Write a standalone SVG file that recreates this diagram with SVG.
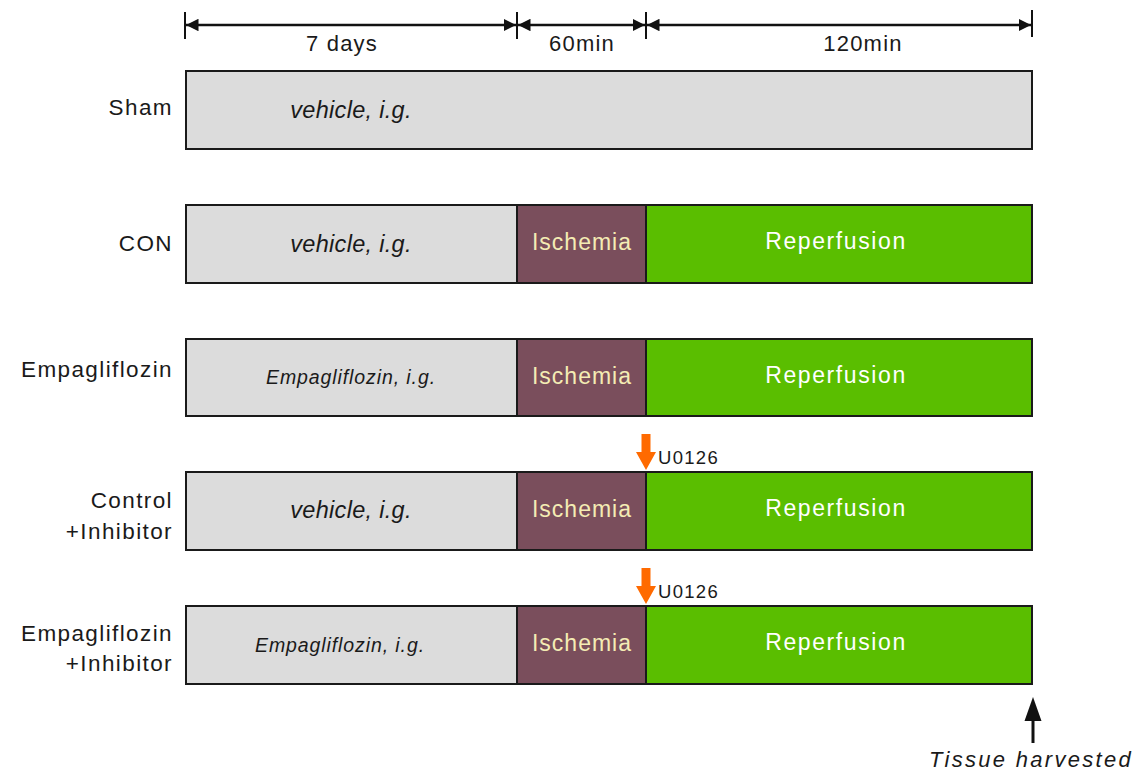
<svg xmlns="http://www.w3.org/2000/svg" width="1137" height="771" viewBox="0 0 1137 771">
<style>
text{font-family:"Liberation Sans",Arial,sans-serif;fill:#1a1a1a}
.lbl{font-size:22.5px;text-anchor:end;letter-spacing:1.4px}
.dim{font-size:22px;text-anchor:middle;letter-spacing:1.2px}
.veh{font-size:23.5px;font-style:italic;text-anchor:middle;letter-spacing:0.3px}
.emp{font-size:19.5px;font-style:italic;text-anchor:middle;letter-spacing:0.9px}
.isc{font-size:23px;fill:#f4ecb4;text-anchor:middle;letter-spacing:1px}
.rep{font-size:23px;fill:#ffffff;text-anchor:middle;letter-spacing:1.6px}
.u{font-size:18.5px;letter-spacing:1.3px}
.gray{fill:#dcdcdc;stroke:#1a1a1a;stroke-width:2}
.isch{fill:#7a4e5c;stroke:#1a1a1a;stroke-width:2}
.green{fill:#5abe00;stroke:#1a1a1a;stroke-width:2}
.dl{stroke:#111;stroke-width:2.5;fill:none}
.tick{stroke:#111;stroke-width:2}
</style>
<defs>
<marker id="ah" viewBox="0 0 10 10" refX="10" refY="5" markerWidth="5" markerHeight="5" orient="auto-start-reverse" markerUnits="strokeWidth">
<path d="M0,0 L10,5 L0,10 z" fill="#111"/>
</marker>
</defs>
<rect width="1137" height="771" fill="#ffffff"/>
<g id="timeline">
<line class="tick" x1="185" y1="12" x2="185" y2="39"/>
<line class="tick" x1="517" y1="12" x2="517" y2="39"/>
<line class="tick" x1="646" y1="12" x2="646" y2="39"/>
<line class="tick" x1="1032" y1="10" x2="1032" y2="37"/>
<line class="dl" x1="186" y1="25" x2="516" y2="25" marker-start="url(#ah)" marker-end="url(#ah)"/>
<line class="dl" x1="518" y1="25" x2="645" y2="25" marker-start="url(#ah)" marker-end="url(#ah)"/>
<line class="dl" x1="647" y1="25" x2="1031" y2="25" marker-start="url(#ah)" marker-end="url(#ah)"/>
<text class="dim" x="342" y="51">7 days</text>
<text class="dim" x="582" y="51">60min</text>
<text class="dim" x="863" y="51">120min</text>
</g>
<g id="sham">
<text class="lbl" x="173" y="115">Sham</text>
<rect class="gray" x="186" y="71" width="846" height="78"/>
<text class="veh" x="351" y="118">vehicle, i.g.</text>
</g>
<g id="con">
<text class="lbl" x="173" y="251">CON</text>
<rect class="gray" x="186" y="205" width="331" height="78"/>
<rect class="isch" x="517" y="205" width="129" height="78"/>
<rect class="green" x="646" y="205" width="386" height="78"/>
<text class="veh" x="351" y="252">vehicle, i.g.</text>
<text class="isc" x="582" y="250">Ischemia</text>
<text class="rep" x="836" y="249">Reperfusion</text>
</g>
<g id="empagliflozin">
<text class="lbl" x="173" y="377">Empagliflozin</text>
<rect class="gray" x="186" y="339" width="331" height="77"/>
<rect class="isch" x="517" y="339" width="129" height="77"/>
<rect class="green" x="646" y="339" width="386" height="77"/>
<text class="emp" x="351" y="384">Empagliflozin, i.g.</text>
<text class="isc" x="582" y="384">Ischemia</text>
<text class="rep" x="836" y="383">Reperfusion</text>
</g>
<g id="control-inhibitor">
<text class="lbl" x="173" y="508">Control</text>
<text class="lbl" x="173" y="539">+Inhibitor</text>
<rect class="gray" x="186" y="472" width="331" height="78"/>
<rect class="isch" x="517" y="472" width="129" height="78"/>
<rect class="green" x="646" y="472" width="386" height="78"/>
<text class="veh" x="351" y="518">vehicle, i.g.</text>
<text class="isc" x="582" y="517">Ischemia</text>
<text class="rep" x="836" y="516">Reperfusion</text>
</g>
<g id="empagliflozin-inhibitor">
<text class="lbl" x="173" y="641">Empagliflozin</text>
<text class="lbl" x="173" y="671">+Inhibitor</text>
<rect class="gray" x="186" y="606" width="331" height="78"/>
<rect class="isch" x="517" y="606" width="129" height="78"/>
<rect class="green" x="646" y="606" width="386" height="78"/>
<text class="emp" x="340" y="652">Empagliflozin, i.g.</text>
<text class="isc" x="582" y="651">Ischemia</text>
<text class="rep" x="836" y="650">Reperfusion</text>
</g>
<g id="inhibitor-arrows">
<path d="M641.5,434 h9 v18 h5.5 l-10,18 l-10,-18 h5.5 z" fill="#ff6a00"/>
<text class="u" x="658" y="464">U0126</text>
<path d="M641.5,568 h9 v18 h5.5 l-10,18 l-10,-18 h5.5 z" fill="#ff6a00"/>
<text class="u" x="658" y="598">U0126</text>
</g>
<g id="harvest">
<line x1="1033" y1="743" x2="1033" y2="718" stroke="#111" stroke-width="3"/>
<path d="M1033,697 l8.5,24 h-17 z" fill="#111"/>
<text x="1031" y="767" style="font-size:22px;font-style:italic;text-anchor:middle;letter-spacing:2.3px">Tissue harvested</text>
</g>
</svg>
